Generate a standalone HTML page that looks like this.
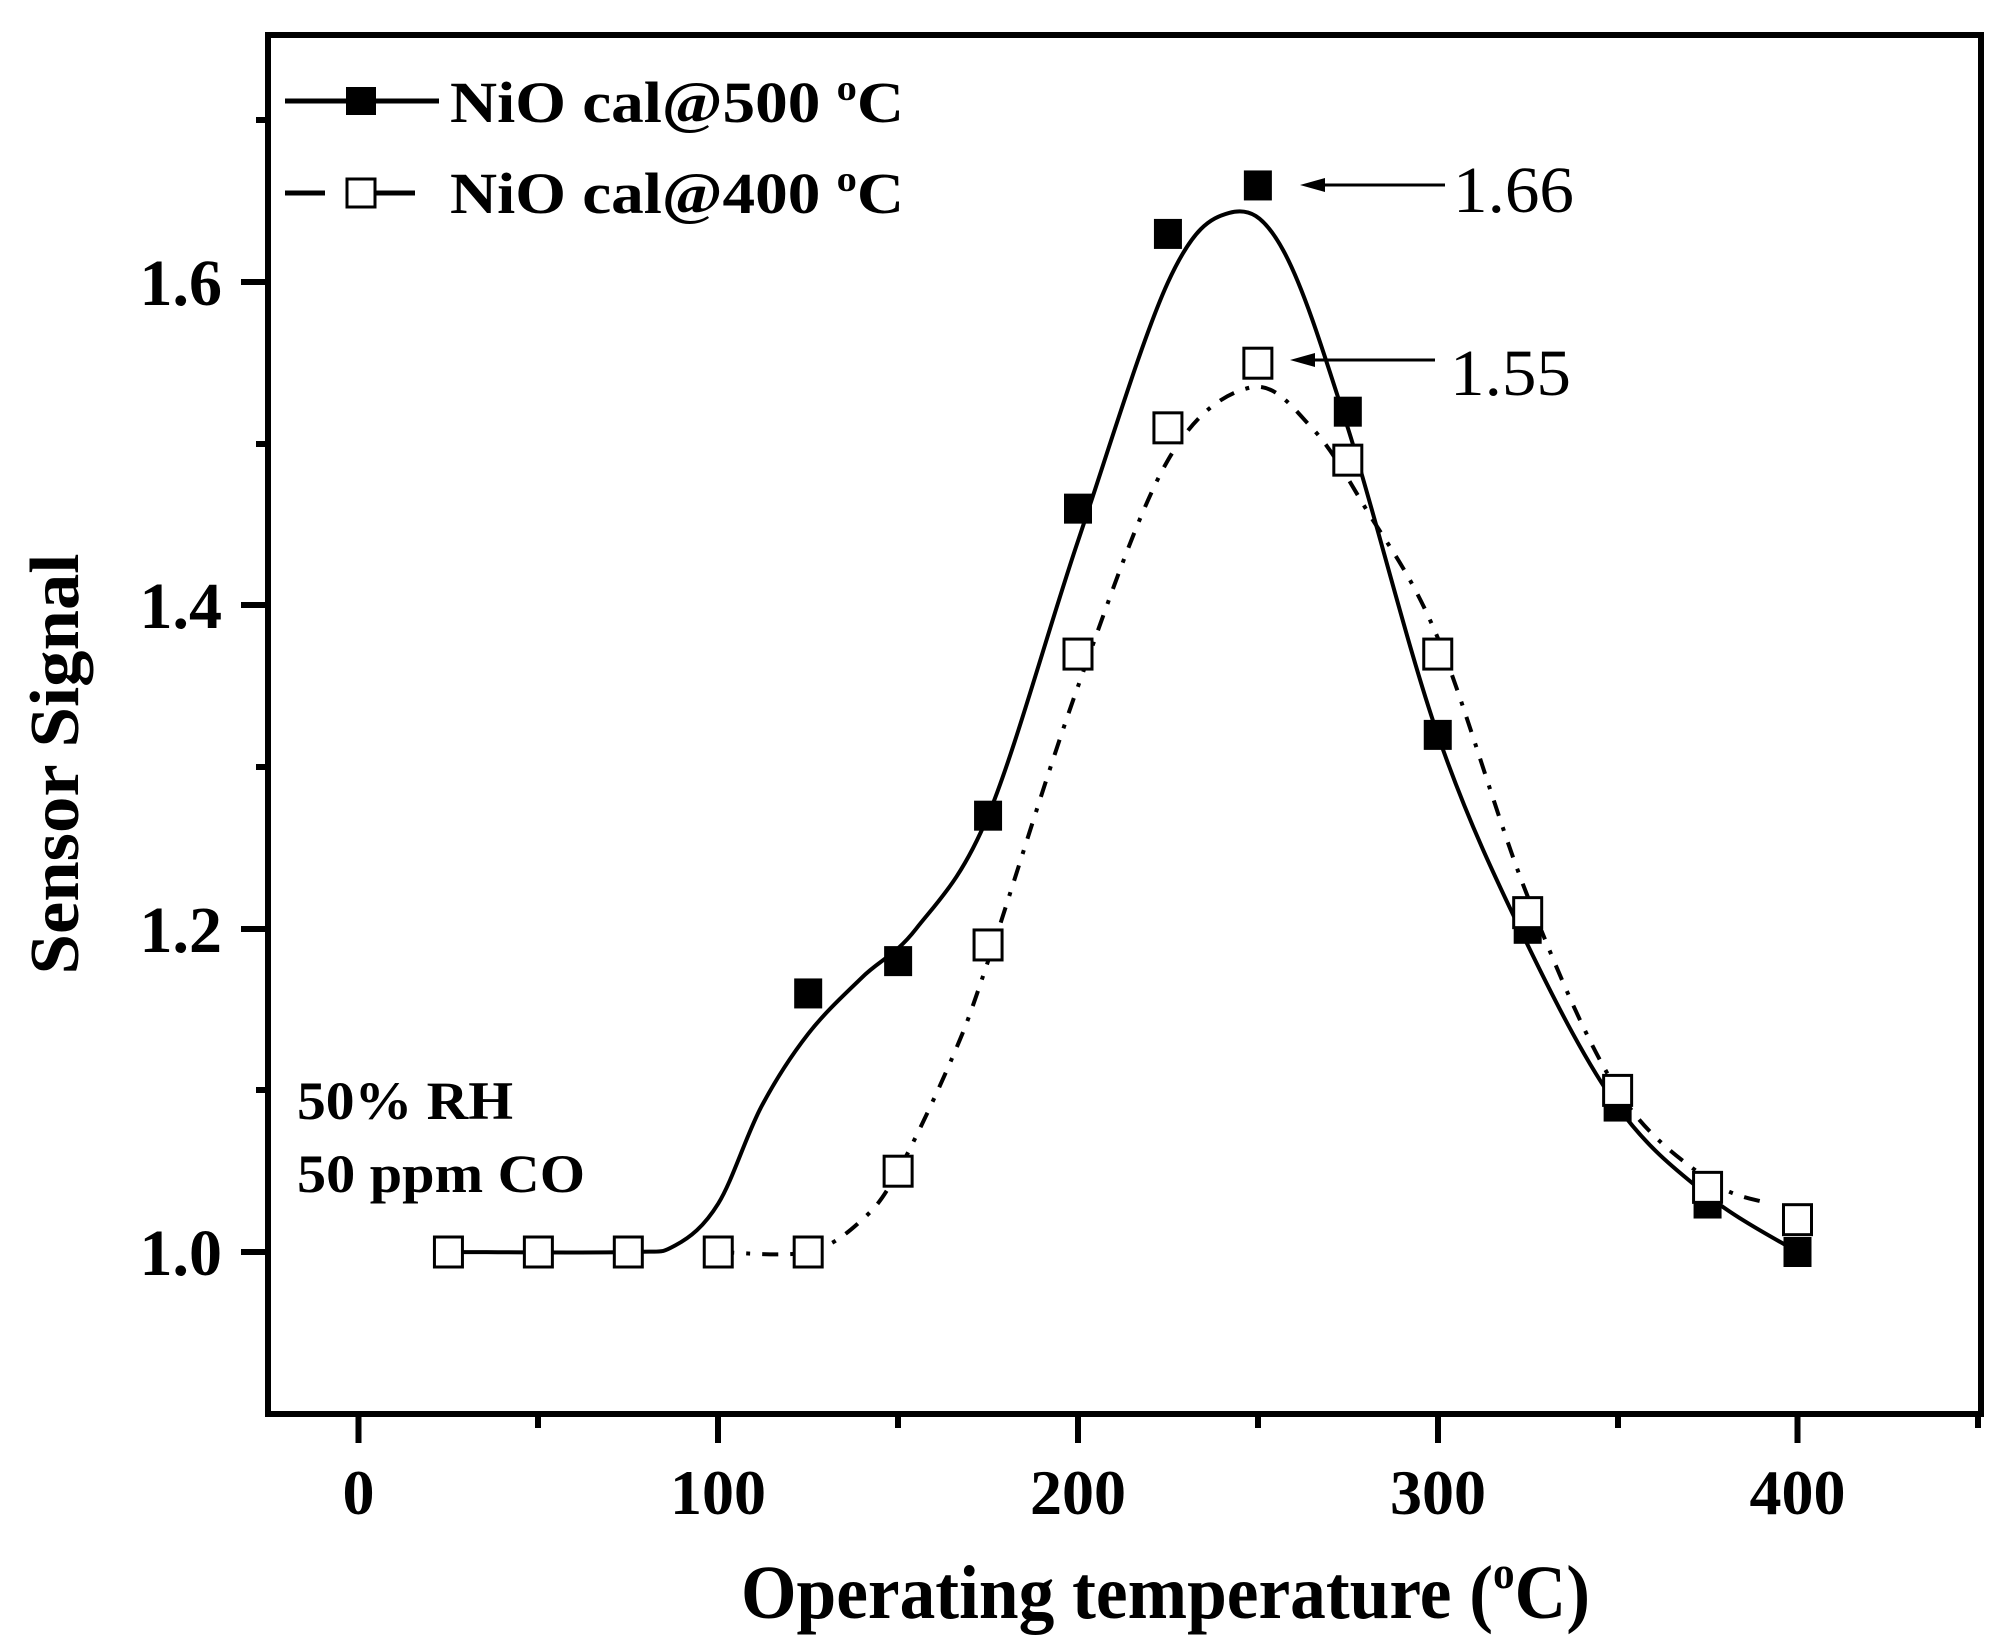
<!DOCTYPE html>
<html><head><meta charset="utf-8"><style>
html,body{margin:0;padding:0;background:#fff}
svg{display:block}
text{font-family:"Liberation Serif",serif;fill:#000}
</style></head><body>
<svg id="s" width="2011" height="1647" viewBox="0 0 2011 1647" xmlns="http://www.w3.org/2000/svg">
<rect width="2011" height="1647" fill="#fff"/>
<g id="curves"></g>
<g id="marks"></g>
<!-- axes frame -->
<rect x="268" y="35" width="1713" height="1379" fill="none" stroke="#000" stroke-width="6"/>
<g stroke="#000" stroke-width="6">
<!-- y ticks -->
<line x1="241" y1="282" x2="268" y2="282"/>
<line x1="241" y1="605" x2="268" y2="605"/>
<line x1="241" y1="929" x2="268" y2="929"/>
<line x1="241" y1="1252" x2="268" y2="1252"/>
<line x1="256" y1="120" x2="268" y2="120"/>
<line x1="256" y1="444" x2="268" y2="444"/>
<line x1="256" y1="767" x2="268" y2="767"/>
<line x1="256" y1="1090" x2="268" y2="1090"/>
<!-- x ticks -->
<line x1="358.5" y1="1414" x2="358.5" y2="1443"/>
<line x1="718" y1="1414" x2="718" y2="1443"/>
<line x1="1078" y1="1414" x2="1078" y2="1443"/>
<line x1="1438" y1="1414" x2="1438" y2="1443"/>
<line x1="1797.5" y1="1414" x2="1797.5" y2="1443"/>
<line x1="538" y1="1414" x2="538" y2="1428"/>
<line x1="898" y1="1414" x2="898" y2="1428"/>
<line x1="1258" y1="1414" x2="1258" y2="1428"/>
<line x1="1618" y1="1414" x2="1618" y2="1428"/>
<line x1="1978" y1="1414" x2="1978" y2="1428"/>
</g>
<g font-size="66" font-weight="bold" text-anchor="end">
<text x="222" y="305">1.6</text>
<text x="222" y="628">1.4</text>
<text x="222" y="952">1.2</text>
<text x="222" y="1275">1.0</text>
</g>
<g font-size="64" font-weight="bold" text-anchor="middle">
<text x="358.5" y="1514">0</text>
<text x="718" y="1514">100</text>
<text x="1078" y="1514">200</text>
<text x="1438" y="1514">300</text>
<text x="1797.5" y="1514">400</text>
</g>
<text x="741" y="1618" font-size="76" font-weight="bold" textLength="849" lengthAdjust="spacingAndGlyphs">Operating temperature (<tspan font-size="46" dy="-30">o</tspan><tspan dy="30">C)</tspan></text>
<text transform="translate(78,764) rotate(-90)" font-size="70" font-weight="bold" text-anchor="middle" textLength="421" lengthAdjust="spacingAndGlyphs">Sensor Signal</text>
<!-- legend -->
<line x1="285" y1="101" x2="439" y2="101" stroke="#000" stroke-width="5"/>
<rect x="346" y="87" width="30" height="28" fill="#000"/>
<line x1="285" y1="193" x2="325" y2="193" stroke="#000" stroke-width="5"/>
<line x1="376" y1="193" x2="415" y2="193" stroke="#000" stroke-width="5"/>
<rect x="347" y="179" width="28" height="28" fill="#fff" stroke="#000" stroke-width="3"/>
<text x="450" y="122" font-size="58" font-weight="bold" textLength="454" lengthAdjust="spacingAndGlyphs">NiO cal@500 <tspan font-size="36" dy="-22">o</tspan><tspan dy="22">C</tspan></text>
<text x="450" y="213" font-size="58" font-weight="bold" textLength="454" lengthAdjust="spacingAndGlyphs">NiO cal@400 <tspan font-size="36" dy="-22">o</tspan><tspan dy="22">C</tspan></text>
<text x="297" y="1119" font-size="54" font-weight="bold" textLength="216" lengthAdjust="spacingAndGlyphs">50% RH</text>
<text x="297" y="1192" font-size="54" font-weight="bold" textLength="288" lengthAdjust="spacingAndGlyphs">50 ppm CO</text>
<!-- annotations -->
<line x1="1310" y1="185" x2="1445" y2="185" stroke="#000" stroke-width="3"/>
<polygon points="1300,185 1325,178 1325,192" fill="#000"/>
<text x="1453" y="212" font-size="66" textLength="121" lengthAdjust="spacingAndGlyphs">1.66</text>
<line x1="1300" y1="360" x2="1435" y2="360" stroke="#000" stroke-width="3"/>
<polygon points="1290,360 1315,353 1315,367" fill="#000"/>
<text x="1450" y="395" font-size="66" textLength="121" lengthAdjust="spacingAndGlyphs">1.55</text>
</svg>
<script>
function px(x){return 358.5+3.5975*x}
function py(y){return 1252-(y-1)*1616}
function cr(pts){
 var p=pts.map(function(a){return [px(a[0]),py(a[1])]});
 var d="M"+p[0][0]+","+p[0][1];
 for(var i=0;i<p.length-1;i++){
  var p0=p[i-1]||p[i],p1=p[i],p2=p[i+1],p3=p[i+2]||p2;
  var c1=[p1[0]+(p2[0]-p0[0])/6,p1[1]+(p2[1]-p0[1])/6];
  var c2=[p2[0]-(p3[0]-p1[0])/6,p2[1]-(p3[1]-p1[1])/6];
  d+=" C"+c1[0].toFixed(1)+","+c1[1].toFixed(1)+" "+c2[0].toFixed(1)+","+c2[1].toFixed(1)+" "+p2[0].toFixed(1)+","+p2[1].toFixed(1);
 }
 return d;
}
var A=[[25,1],[75,1],[88,1.004],[100,1.03],[112,1.09],[125,1.135],[140,1.17],[155,1.2],[175,1.27],[200,1.44],[225,1.60],[242,1.643],[257,1.62],[275,1.51],[300,1.32],[325,1.19],[350,1.09],[375,1.035],[400,1.0]];
var B=[[100,1.0],[125,1.0],[140,1.02],[150,1.05],[165,1.12],[175,1.18],[200,1.35],[225,1.49],[248,1.535],[265,1.51],[280,1.46],[300,1.38],[325,1.22],[350,1.10],[375,1.045],[392,1.03]];
var ns="http://www.w3.org/2000/svg";
var g=document.getElementById("curves");
function path(d,dash){var e=document.createElementNS(ns,"path");e.setAttribute("d",d);e.setAttribute("fill","none");e.setAttribute("stroke","#000");e.setAttribute("stroke-width","4");if(dash)e.setAttribute("stroke-dasharray",dash);g.appendChild(e);}
path(cr(A));
path(cr(B),"16 12 4 12");
var m=document.getElementById("marks");
function sq(x,y,fill){var e=document.createElementNS(ns,"rect");e.setAttribute("x",px(x)-14);e.setAttribute("y",py(y)-15);e.setAttribute("width",28);e.setAttribute("height",30);e.setAttribute("fill",fill?"#000":"#fff");e.setAttribute("stroke","#000");e.setAttribute("stroke-width",fill?0:3);m.appendChild(e);}
var Ad=[[125,1.16],[150,1.18],[175,1.27],[200,1.46],[225,1.63],[250,1.66],[275,1.52],[300,1.32],[325,1.20],[350,1.09],[375,1.03],[400,1.0]];
var Bd=[[25,1],[50,1],[75,1],[100,1],[125,1],[150,1.05],[175,1.19],[200,1.37],[225,1.51],[250,1.55],[275,1.49],[300,1.37],[325,1.21],[350,1.10],[375,1.04],[400,1.02]];
Ad.forEach(function(a){sq(a[0],a[1],true)});
Bd.forEach(function(a){sq(a[0],a[1],false)});
</script>
</body></html>
